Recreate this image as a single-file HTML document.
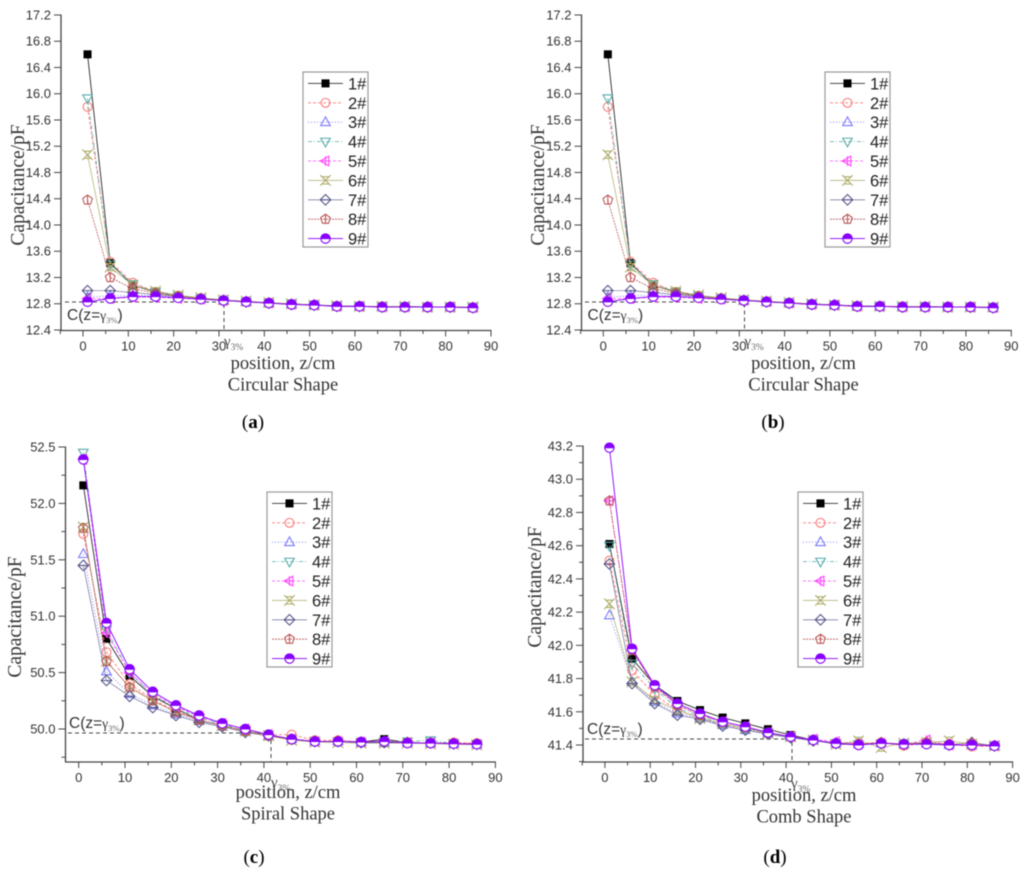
<!DOCTYPE html>
<html lang="en">
<head>
<meta charset="utf-8">
<title>Capacitance vs position</title>
<style>
html,body{margin:0;padding:0;background:#fff;}
#figure{display:block;width:1024px;height:875px;filter:blur(0.6px);}
text{fill:#333;}
.sans{font-family:"Liberation Sans",sans-serif;}
.serif{font-family:"Liberation Serif",serif;}
</style>
</head>
<body>
<svg id="figure" xmlns="http://www.w3.org/2000/svg" width="1024" height="875" viewBox="0 0 1024 875"></svg>
<script>
const positions = [1,6,11,16,21,26,31,36,41,46,51,56,61,66,71,76,81,86];
const seriesNames = ['1#','2#','3#','4#','5#','6#','7#','8#','9#'];
const xTickLabels = [0,10,20,30,40,50,60,70,80,90];
const xMinorTicks = [-5,5,15,25,35,45,55,65,75,85];

const circularTicks = [12.4,12.8,13.2,13.6,14.0,14.4,14.8,15.2,15.6,16.0,16.4,16.8,17.2];
const spiralTicks = [50.0,50.5,51.0,51.5,52.0,52.5];
const spiralMinor = [49.75,50.25,50.75,51.25,51.75,52.25];
const combTicks = [41.4,41.6,41.8,42.0,42.2,42.4,42.6,42.8,43.0,43.2];
const combMinor = [41.3,41.5,41.7,41.9,42.1,42.3,42.5,42.7,42.9,43.1];

const circular1 = [16.60,13.42,13.08,12.98,12.92,12.88,12.86,12.83,12.81,12.80,12.78,12.77,12.76,12.76,12.76,12.75,12.75,12.75];
const circular2 = [15.80,13.44,13.12,12.98,12.92,12.88,12.85,12.83,12.81,12.79,12.78,12.76,12.76,12.76,12.75,12.75,12.75,12.74];
const circular3 = [12.90,12.92,12.93,12.92,12.90,12.87,12.85,12.83,12.81,12.79,12.78,12.76,12.76,12.75,12.75,12.75,12.75,12.74];
const circular4 = [15.93,13.40,13.10,12.98,12.92,12.88,12.85,12.83,12.81,12.80,12.78,12.77,12.76,12.76,12.76,12.75,12.75,12.75];
const circular5 = [12.88,12.88,12.90,12.90,12.88,12.87,12.85,12.83,12.81,12.79,12.78,12.76,12.76,12.75,12.75,12.75,12.75,12.74];
const circular6 = [15.07,13.36,13.08,12.99,12.93,12.89,12.86,12.84,12.82,12.80,12.78,12.77,12.76,12.76,12.76,12.75,12.75,12.75];
const circular7 = [13.00,13.00,12.97,12.94,12.91,12.88,12.85,12.83,12.81,12.79,12.78,12.76,12.76,12.75,12.75,12.75,12.75,12.74];
const circular8 = [14.38,13.20,13.03,12.96,12.91,12.88,12.85,12.83,12.81,12.79,12.78,12.76,12.76,12.75,12.75,12.75,12.75,12.74];
const circular9 = [12.83,12.88,12.91,12.91,12.89,12.87,12.85,12.83,12.81,12.79,12.78,12.76,12.76,12.75,12.75,12.75,12.75,12.74];

const spiral1 = [52.16,50.80,50.47,50.29,50.18,50.08,50.03,49.98,49.94,49.91,49.89,49.89,49.885,49.91,49.88,49.875,49.87,49.865];
const spiral2 = [51.73,50.68,50.40,50.26,50.16,50.08,50.03,49.99,49.95,49.95,49.90,49.90,49.885,49.89,49.88,49.875,49.88,49.875];
const spiral3 = [51.55,50.51,50.31,50.21,50.13,50.07,50.02,49.98,49.94,49.91,49.89,49.89,49.88,49.88,49.88,49.875,49.87,49.865];
const spiral4 = [52.45,50.88,50.50,50.30,50.19,50.10,50.04,49.99,49.95,49.91,49.89,49.89,49.885,49.89,49.89,49.90,49.87,49.865];
const spiral5 = [52.39,50.85,50.50,50.31,50.20,50.11,50.05,50.00,49.95,49.91,49.89,49.89,49.885,49.89,49.88,49.875,49.87,49.865];
const spiral6 = [51.79,50.60,50.37,50.25,50.15,50.08,50.03,49.98,49.94,49.90,49.885,49.88,49.875,49.875,49.875,49.87,49.865,49.86];
const spiral7 = [51.45,50.43,50.29,50.19,50.12,50.06,50.02,49.97,49.94,49.91,49.89,49.89,49.88,49.88,49.88,49.875,49.87,49.865];
const spiral8 = [51.78,50.60,50.37,50.25,50.15,50.08,50.03,49.98,49.94,49.91,49.89,49.89,49.885,49.89,49.88,49.875,49.875,49.87];
const spiral9 = [52.39,50.94,50.53,50.33,50.21,50.12,50.05,50.00,49.95,49.91,49.89,49.89,49.885,49.89,49.875,49.875,49.87,49.865];

const comb1 = [42.61,41.92,41.76,41.665,41.61,41.565,41.53,41.495,41.46,41.43,41.405,41.405,41.41,41.405,41.41,41.40,41.40,41.395];
const comb2 = [42.51,41.85,41.70,41.61,41.56,41.525,41.50,41.47,41.45,41.43,41.41,41.41,41.415,41.395,41.41,41.405,41.39,41.395];
const comb3 = [42.18,41.78,41.66,41.59,41.56,41.52,41.49,41.47,41.45,41.43,41.41,41.405,41.41,41.405,41.41,41.40,41.40,41.395];
const comb4 = [42.60,41.89,41.74,41.62,41.57,41.53,41.50,41.475,41.45,41.43,41.41,41.405,41.41,41.405,41.41,41.40,41.40,41.395];
const comb5 = [42.87,41.97,41.75,41.64,41.58,41.54,41.51,41.475,41.45,41.435,41.42,41.405,41.41,41.405,41.43,41.40,41.40,41.395];
const comb6 = [42.25,41.78,41.67,41.61,41.56,41.53,41.50,41.47,41.45,41.43,41.405,41.425,41.385,41.41,41.415,41.425,41.405,41.395];
const comb7 = [42.49,41.77,41.65,41.58,41.555,41.515,41.49,41.465,41.445,41.425,41.41,41.405,41.41,41.405,41.41,41.40,41.415,41.395];
const comb8 = [42.87,41.97,41.75,41.64,41.58,41.54,41.51,41.475,41.45,41.43,41.41,41.405,41.415,41.405,41.415,41.405,41.41,41.395];
const comb9 = [43.19,41.98,41.76,41.65,41.59,41.54,41.51,41.475,41.45,41.43,41.41,41.40,41.41,41.405,41.405,41.40,41.40,41.395];

const circularSeries = [circular1,circular2,circular3,circular4,circular5,circular6,circular7,circular8,circular9];
const spiralSeries = [spiral1,spiral2,spiral3,spiral4,spiral5,spiral6,spiral7,spiral8,spiral9];
const combSeries = [comb1,comb2,comb3,comb4,comb5,comb6,comb7,comb8,comb9];

const styles = [
  {color:'#111',dash:'',w:0.8},
  {color:'#f77',dash:'3 2',w:0.9},
  {color:'#77f',dash:'1 2',w:0.9},
  {color:'#5aa',dash:'4 2 1 2',w:0.8},
  {color:'#f4f',dash:'3 2',w:0.8},
  {color:'#aa6',dash:'',w:0.7},
  {color:'#558',dash:'',w:0.6},
  {color:'#b55',dash:'2 1',w:0.8},
  {color:'#80f',dash:'',w:0.9}
];
const SVGNS = 'http://www.w3.org/2000/svg';
const root = document.getElementById('figure');

function node(parent, tag, name, attrs, txt) {
  const el = document.createElementNS(SVGNS, tag);
  for (const k in attrs) el.setAttribute(k, attrs[k]);
  
  
  if (txt !== undefined) el.textContent = txt;
  parent.appendChild(el);
  return el;
}

function marker(parent, idx, x, y) {
  const c = styles[idx].color;
  const g = node(parent, 'g', 'marker-' + (idx + 1), {transform: 'translate(' + x.toFixed(2) + ' ' + y.toFixed(2) + ') scale(1.2)', fill: 'none', stroke: c, 'stroke-width': 0.9});
  if (idx === 0) node(g, 'rect', 'square', {x: -2.9, y: -2.9, width: 5.8, height: 5.8, fill: '#000', stroke: '#000'});
  if (idx === 1) node(g, 'circle', 'circle', {r: 3.7});
  if (idx === 2) node(g, 'path', 'triangle', {d: 'M0-4.4L4 2.8H-4Z'});
  if (idx === 3) node(g, 'path', 'inverted-triangle', {d: 'M0 4.4L4-2.8H-4Z'});
  if (idx === 4) node(g, 'path', 'left-triangle', {d: 'M-4.4 0L2.8-4V4ZM-4.4 0H4M0-4V4'});
  if (idx === 5) node(g, 'path', 'hourglass-cross', {d: 'M-4.4-4.4L4.4 4.4M-4.4 4.4L4.4-4.4M-2.5-3H2.5M-2.5 3H2.5'});
  if (idx === 6) node(g, 'path', 'diamond', {d: 'M0-4.4L4.4 0 0 4.4-4.4 0ZM-4.4 0H4.4'});
  if (idx === 7) node(g, 'path', 'pentagon', {d: 'M0-4.2L4-1.3 2.5 3.4H-2.5L-4-1.3ZM0-4.2V3.4'});
  if (idx === 8) {
    node(g, 'circle', 'half-circle-base', {r: 3.9, fill: '#fff'});
    node(g, 'path', 'half-circle-fill', {d: 'M-3.9 0A3.9 3.9 0 0 1 3.9 0Z', fill: c});
  }
}

function gammaLabel(parent, name, x, y) {
  const t = node(parent, 'text', name, {x: x, y: y, class: 'serif', 'font-size': 15, style: 'fill:#444'});
  node(t, 'tspan', 'gamma', {}, 'γ');
  node(t, 'tspan', 'gamma-subscript', {dy: 4, 'font-size': 9.5, style: 'fill:#666'}, '3%');
}

function drawPanel(p) {
  const sx = v => p.x0 + v * p.kx;
  const sy = v => p.yRefPx - (v - p.yRef) * p.ky;
  const g = node(root, 'g', 'panel-' + p.id, {});

  node(g, 'line', 'y-axis-line', {x1: p.axisX, x2: p.axisX, y1: sy(p.yTop) - 0.5, y2: p.axisY + 0.5, stroke: '#444', 'stroke-width': 1.3});
  node(g, 'line', 'x-axis-line', {x1: p.axisX, x2: sx(90) + 0.5, y1: p.axisY, y2: p.axisY, stroke: '#444', 'stroke-width': 1.3});

  xTickLabels.forEach(v => {
    node(g, 'line', 'x-tick', {x1: sx(v), x2: sx(v), y1: p.axisY, y2: p.axisY + 6, stroke: '#444', 'stroke-width': 1});
    node(g, 'text', 'x-tick-label', {x: sx(v), y: p.axisY + 20, 'text-anchor': 'middle', class: 'sans', 'font-size': 13}, String(v));
  });
  xMinorTicks.forEach(v => {
    if (sx(v) >= p.axisX - 1) node(g, 'line', 'x-minor-tick', {x1: sx(v), x2: sx(v), y1: p.axisY, y2: p.axisY + 3.5, stroke: '#444', 'stroke-width': 1});
  });
  p.yTicks.forEach(v => {
    node(g, 'line', 'y-tick', {x1: p.axisX - 7, x2: p.axisX, y1: sy(v), y2: sy(v), stroke: '#444', 'stroke-width': 1});
    node(g, 'text', 'y-tick-label', {x: p.axisX - 10, y: sy(v) + 4.5, 'text-anchor': 'end', class: 'sans', 'font-size': 13}, v.toFixed(1));
  });
  p.yMinor.forEach(v => {
    node(g, 'line', 'y-minor-tick', {x1: p.axisX - 4, x2: p.axisX, y1: sy(v), y2: sy(v), stroke: '#444', 'stroke-width': 1});
  });

  node(g, 'text', 'y-axis-title', {transform: 'translate(' + p.yTitleX + ' ' + p.yTitleY + ') rotate(-90)', 'text-anchor': 'middle', class: 'serif', 'font-size': 19.5}, 'Capacitance/pF');
  node(g, 'text', 'x-axis-title', {x: p.titleX, y: p.titleY, 'text-anchor': 'middle', class: 'serif', 'font-size': 18.5}, 'position, z/cm');
  node(g, 'text', 'shape-title', {x: p.titleX, y: p.titleY + 21.5, 'text-anchor': 'middle', class: 'serif', 'font-size': 18.5}, p.shape);
  const cap = node(g, 'text', 'panel-caption', {x: p.capX, y: p.capY, 'text-anchor': 'middle', class: 'serif', 'font-size': 19, style: 'fill:#000'});
  node(cap, 'tspan', 'caption-open', {}, '(');
  node(cap, 'tspan', 'caption-letter', {'font-weight': 'bold'}, p.caption);
  node(cap, 'tspan', 'caption-close', {}, ')');

  node(g, 'path', 'threshold-guide', {d: 'M' + p.guideX0 + ' ' + p.guideY + 'H' + p.guideX + 'V' + p.axisY, fill: 'none', stroke: '#444', 'stroke-width': 1, 'stroke-dasharray': '4 3'});
  const lab = node(g, 'text', 'threshold-label', {x: p.cLabelX, y: p.cLabelY, class: 'sans', 'font-size': 15.5});
  node(lab, 'tspan', 'threshold-label-start', {}, 'C(z=');
  node(lab, 'tspan', 'threshold-label-gamma', {class: 'serif', 'font-size': 13.5}, 'γ');
  node(lab, 'tspan', 'threshold-label-sub', {class: 'serif', 'font-size': 8.5, dy: 3, style: 'fill:#666'}, '3%');
  node(lab, 'tspan', 'threshold-label-end', {dy: -3}, ')');
  gammaLabel(g, 'gamma-position-label', p.gammaX, p.gammaY);

  p.series.forEach((vals, i) => {
    const s = styles[i];
    const sg = node(g, 'g', 'series-' + (i + 1), {});
    const d = vals.map((v, j) => (j ? 'L' : 'M') + sx(positions[j]).toFixed(2) + ' ' + sy(v).toFixed(2)).join('');
    node(sg, 'path', 'series-line', {d: d, fill: 'none', stroke: s.color, 'stroke-width': s.w, 'stroke-dasharray': s.dash});
    vals.forEach((v, j) => marker(sg, i, sx(positions[j]), sy(v)));
  });

  const lg = node(g, 'g', 'legend', {});
  node(lg, 'rect', 'legend-box', {x: p.legX, y: 72, width: 65, height: 175, fill: '#fff', stroke: '#999', 'stroke-width': 1.2, transform: 'translate(0 ' + p.legDY + ')'});
  seriesNames.forEach((nm, i) => {
    const y = 83.4 + p.legDY + i * 19.4;
    const e = node(lg, 'g', 'legend-entry', {});
    const s = styles[i];
    node(e, 'line', 'legend-line', {x1: p.legX + 5, x2: p.legX + 40, y1: y, y2: y, stroke: s.color, 'stroke-width': s.w, 'stroke-dasharray': s.dash});
    marker(e, i, p.legX + 22.5, y);
    node(e, 'text', 'legend-label', {x: p.legX + 45, y: y + 6, class: 'sans', 'font-size': 16.5, style: 'fill:#222'}, nm);
  });
}

const noMinor = [];
const panels = [
  {id:'a',caption:'a',shape:'Circular Shape',series:circularSeries,yTicks:circularTicks,yMinor:noMinor,
   x0:83,kx:4.533,yRef:12.4,yRefPx:330,ky:65.63,yTop:17.2,axisX:61,axisY:330.5,
   yTitleX:24,yTitleY:185,titleX:283,titleY:369,capX:253,capY:428,
   guideX0:65,guideX:224,guideY:302,cLabelX:67,cLabelY:320,gammaX:224,gammaY:346,legX:303,legDY:0},
  {id:'b',caption:'b',shape:'Circular Shape',series:circularSeries,yTicks:circularTicks,yMinor:noMinor,
   x0:603.3,kx:4.533,yRef:12.4,yRefPx:330,ky:65.63,yTop:17.2,axisX:581.5,axisY:330.5,
   yTitleX:544,yTitleY:185,titleX:803.5,titleY:369,capX:773,capY:428,
   guideX0:585,guideX:744.5,guideY:302,cLabelX:587.5,cLabelY:320,gammaX:744.5,gammaY:346,legX:825,legDY:0},
  {id:'c',caption:'c',shape:'Spiral Shape',series:spiralSeries,yTicks:spiralTicks,yMinor:spiralMinor,
   x0:78.7,kx:4.63,yRef:50,yRefPx:729,ky:112.8,yTop:52.5,axisX:65.5,axisY:762,
   yTitleX:21,yTitleY:617,titleX:288,titleY:798,capX:254,capY:863,
   guideX0:68,guideX:271,guideY:733,cLabelX:69,cLabelY:728,gammaX:271,gammaY:787,legX:267,legDY:420},
  {id:'d',caption:'d',shape:'Comb Shape',series:combSeries,yTicks:combTicks,yMinor:combMinor,
   x0:604.9,kx:4.53,yRef:41.4,yRefPx:745,ky:166.1,yTop:43.2,axisX:583,axisY:762,
   yTitleX:541,yTitleY:587,titleX:804,titleY:801,capX:775,capY:863,
   guideX0:585,guideX:792,guideY:739,cLabelX:587,cLabelY:734,gammaX:791,gammaY:788,legX:798,legDY:420}
];
panels.forEach(drawPanel);
</script>
</body>
</html>
